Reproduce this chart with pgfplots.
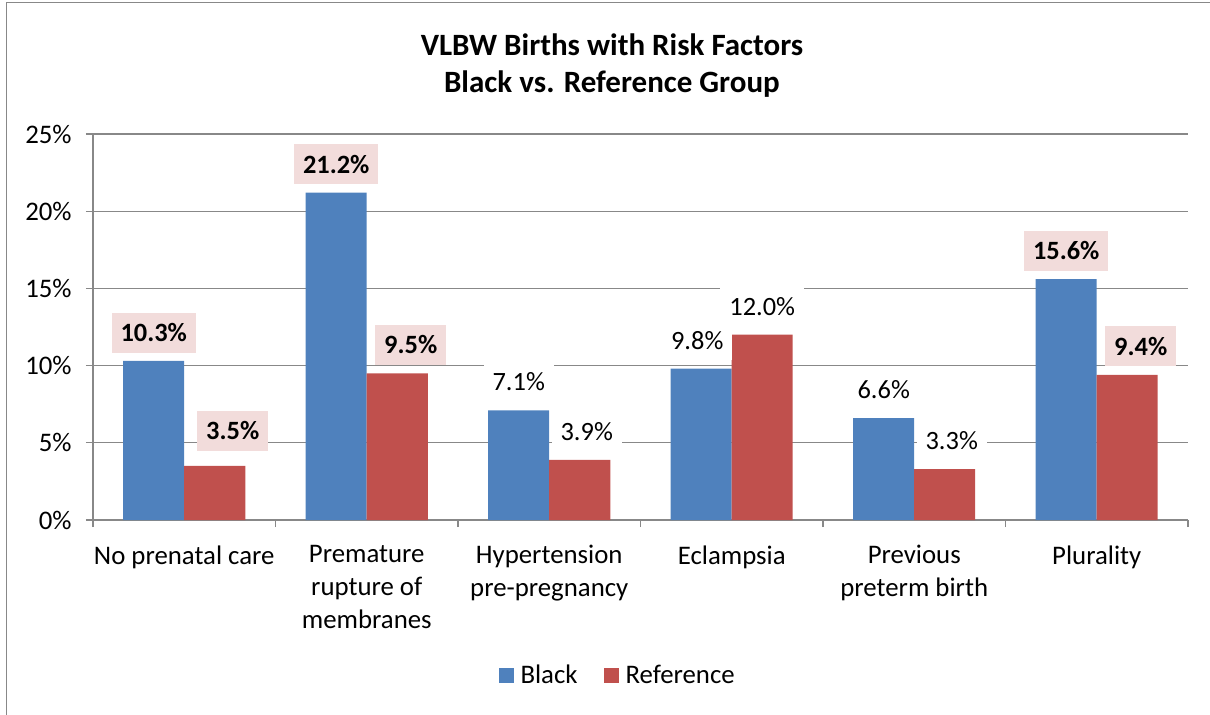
\documentclass[border=0pt]{standalone}
\usepackage{pgfplots}
\usepackage{pgfplotstable}
\pgfplotsset{compat=1.18}
\usepackage{fontspec}
\setmainfont{Carlito}
\definecolor{cblue}{HTML}{4F81BD}
\definecolor{cred}{HTML}{C0504D}
\definecolor{lpink}{HTML}{F2DCDB}
\definecolor{gridc}{HTML}{888888}

% Full series (bars)
\pgfplotstableread{
x y
0 10.3
1 21.2
2 7.1
3 9.8
4 6.6
5 15.6
}\blackdata
\pgfplotstableread{
x y
0 3.5
1 9.5
2 3.9
3 12.0
4 3.3
5 9.4
}\refdata
% Label groups (same values, split by label style)
\pgfplotstableread{
x y
0 10.3
1 21.2
5 15.6
}\blackbold
\pgfplotstableread{
x y
2 7.1
4 6.6
}\blacknorm
\pgfplotstableread{
x y
3 9.8
}\blacknormb
\pgfplotstableread{
x y
1 9.5
5 9.4
}\refbold
\pgfplotstableread{
x y
0 3.5
}\refboldb
\pgfplotstableread{
x y
3 12.0
}\refnorm
\pgfplotstableread{
x y
2 3.9
4 3.3
}\refnormb

\pgfplotsset{
  lblbase/.style={nodes near coords={\pgfmathprintnumber[fixed,fixed zerofill,precision=1]{\pgfplotspointmeta}\%},
    nodes near coords align={vertical},
    every node near coord/.append style={font=\fontsize{13.2bp}{15.6bp}\selectfont, text=black, inner xsep=4.5bp, inner ysep=0pt, minimum height=20bp, anchor=south}},
  lblbold/.style n args={2}{lblbase, every node near coord/.append style={font=\bfseries\fontsize{13.2bp}{15.6bp}\selectfont, fill=lpink, yshift=#1, xshift=#2}},
  lblnorm/.style={lblbase, every node near coord/.append style={fill=white, yshift=4bp, xshift=#1}},
  bblue/.style={ybar, bar width=30.5bp, bar shift=-15.25bp, fill=cblue, draw=none,
    legend image code/.code={\fill[cblue] (0bp,-3.75bp) rectangle (7.5bp,3.75bp);}},
  bred/.style={ybar, bar width=30.5bp, bar shift=15.25bp, fill=cred, draw=none,
    legend image code/.code={\fill[cred] (0bp,-3.75bp) rectangle (7.5bp,3.75bp);}},
  lblblue/.style={ybar, bar width=30.5bp, bar shift=-15.25bp, fill=none, draw=none, forget plot,
    every node near coord/.append style={xshift=-15.25bp}},
  lblred/.style={ybar, bar width=30.5bp, bar shift=15.25bp, fill=none, draw=none, forget plot,
    every node near coord/.append style={xshift=15.25bp}},
}

\begin{document}
\begin{tikzpicture}
\useasboundingbox (0,0) rectangle (605bp,-357.5bp);
\draw[gridc, line width=0.6bp] (3.3bp,-360bp) -- (3.3bp,-1.3bp) -- (610bp,-1.3bp);
\node[font=\bfseries\fontsize{15.5bp}{18.5bp}\selectfont, align=center] at (306bp,-33bp) {VLBW Births with Risk Factors\\Black vs. Reference Group};
\begin{axis}[
  at={(46.5bp,-260bp)}, anchor=south west,
  scale only axis, width=547.5bp, height=193bp,
  xmin=-0.5, xmax=5.5, ymin=0, ymax=25,
  axis lines=left,
  axis line style={gridc, line width=0.6bp, -},
  xtick={0,...,5},
  major x tick style={draw=none},
  minor xtick={-0.5,0.5,...,5.5},
  minor x tick style={gridc, line width=0.6bp},
  minor tick length=3.5bp,
  xticklabels={No prenatal care, Premature\\rupture of\\membranes, Hypertension\\pre-pregnancy, Eclampsia, Previous\\preterm birth, Plurality},
  xticklabel style={align=center, anchor=north, inner sep=0pt, yshift=-9bp, font=\fontsize{13.4bp}{16.5bp}\selectfont},
  ytick={0,5,...,25},
  yticklabels={0\%,5\%,10\%,15\%,20\%,25\%},
  yticklabel style={anchor=east, inner sep=0pt, xshift=-7bp, font=\fontsize{13.4bp}{15.6bp}\selectfont},
  major tick length=3.5bp,
  tick align=outside,
  y tick style={gridc, line width=0.6bp},
  ymajorgrids, grid style={gridc, line width=0.6bp},
  /pgf/number format/assume math mode=true,
  legend style={at={(0.48,-0.404)}, anchor=center, draw=none, fill=none,
    font=\fontsize{13.4bp}{15.6bp}\selectfont, legend columns=2,
    /tikz/every even column/.append style={column sep=11bp}},
  legend cell align=left,
]
\addplot[bblue] table[x=x,y=y] {\blackdata};
\addlegendentry{\hspace{1.5bp}Black}
\addplot[bred] table[x=x,y=y] {\refdata};
\addlegendentry{\hspace{1.5bp}Reference}
% data labels drawn on top of all bars
\addplot[lblblue, lblbold={4bp}{0bp}] table[x=x,y=y] {\blackbold};
\addplot[lblblue, lblnorm=0bp] table[x=x,y=y] {\blacknorm};
\addplot[lblblue, lblnorm=-2bp] table[x=x,y=y] {\blacknormb};
\addplot[lblred, lblbold={4bp}{6.75bp}] table[x=x,y=y] {\refbold};
\addplot[lblred, lblbold={7.5bp}{9bp}] table[x=x,y=y] {\refboldb};
\addplot[lblred, lblnorm=0bp] table[x=x,y=y] {\refnorm};
\addplot[lblred, lblnorm=3.5bp] table[x=x,y=y] {\refnormb};
\end{axis}
\end{tikzpicture}
\end{document}
